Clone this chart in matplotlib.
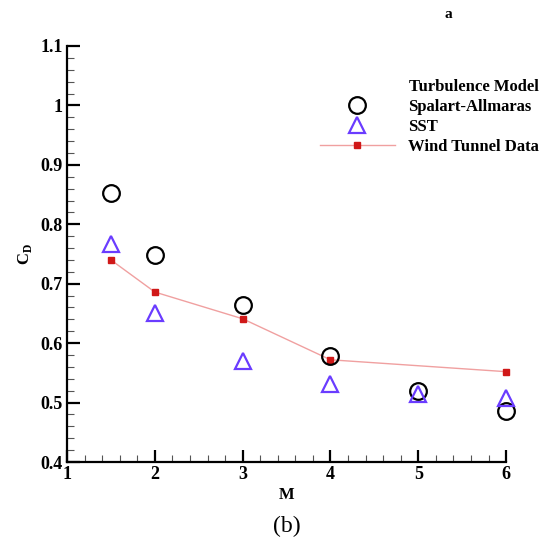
import matplotlib
matplotlib.use("Agg")
import matplotlib.pyplot as plt
from matplotlib.ticker import MultipleLocator

plt.rcParams['font.family'] = ['Liberation Serif', 'DejaVu Serif']

# Drag coefficient vs Mach number
mach_sa = [1.5, 2, 3, 4, 5, 6]
cd_sa = [0.853, 0.748, 0.665, 0.578, 0.520, 0.486]

mach_sst = [1.5, 2, 3, 4, 5, 6]
cd_sst = [0.767, 0.651, 0.570, 0.531, 0.514, 0.508]

mach_wt = [1.5, 2, 3, 4, 6]
cd_wt = [0.740, 0.686, 0.641, 0.572, 0.552]

fig = plt.figure(figsize=(5.43, 5.41), dpi=100)
ax = fig.add_axes([0.1234, 0.146, 0.8086, 0.769])

ax.plot(mach_wt, cd_wt, color='#f0a0a0', lw=1.0, marker='s', ms=4.5,
        mfc='#d01818', mec='#d01818', label='Wind Tunnel Data', zorder=2,
        clip_on=False)
ax.plot(mach_sa, cd_sa, ls='none', marker='o', ms=12, mfc='none', mec='black',
        mew=1.6, label='Spalart-Allmaras', zorder=3, clip_on=False)
ax.plot(mach_sst, cd_sst, ls='none', marker='^', ms=11, mfc='none', mec='#6a3cff',
        mew=1.6, label='SST', zorder=3, clip_on=False)

ax.set_xlim(1, 6)
ax.set_ylim(0.4, 1.1)
ax.xaxis.set_major_locator(MultipleLocator(1))
ax.xaxis.set_minor_locator(MultipleLocator(0.2))
ax.yaxis.set_major_locator(MultipleLocator(0.1))
ax.yaxis.set_minor_locator(MultipleLocator(0.02))
ax.yaxis.set_major_formatter(plt.FuncFormatter(lambda v, p: f"{v:g}"))

for s in ['top', 'right']:
    ax.spines[s].set_visible(False)
for s in ['left', 'bottom']:
    ax.spines[s].set_linewidth(1.6)

ax.tick_params(which='major', direction='in', length=9, width=1.6,
               labelsize=13, pad=3)
ax.tick_params(which='minor', direction='in', length=5, width=0.8,
               color='#555555')
for lab in ax.get_xticklabels() + ax.get_yticklabels():
    lab.set_fontweight('bold')

ax.set_xlabel('M', fontsize=12, fontweight='bold', labelpad=3)
ax.set_ylabel(r'C$_\mathregular{D}$', fontsize=12, fontweight='bold', labelpad=5)

handles, labels = ax.get_legend_handles_labels()
order = [1, 2, 0]
leg = ax.legend([handles[i] for i in order], [labels[i] for i in order],
                title='Turbulence Model', loc='upper left',
                bbox_to_anchor=(0.567, 0.876), bbox_transform=fig.transFigure,
                frameon=False, handlelength=4.5, handletextpad=0.8,
                labelspacing=0.25, borderpad=0.2, alignment='right',
                prop={'weight': 'bold', 'size': 12},
                title_fontproperties={'weight': 'bold', 'size': 12})

fig.text(0.826, 0.974, 'a', fontsize=11, fontweight='bold', ha='center', va='center')
fig.text(0.528, 0.027, '(b)', fontsize=17, ha='center', va='center')

fig.savefig('out.png', dpi=100)
